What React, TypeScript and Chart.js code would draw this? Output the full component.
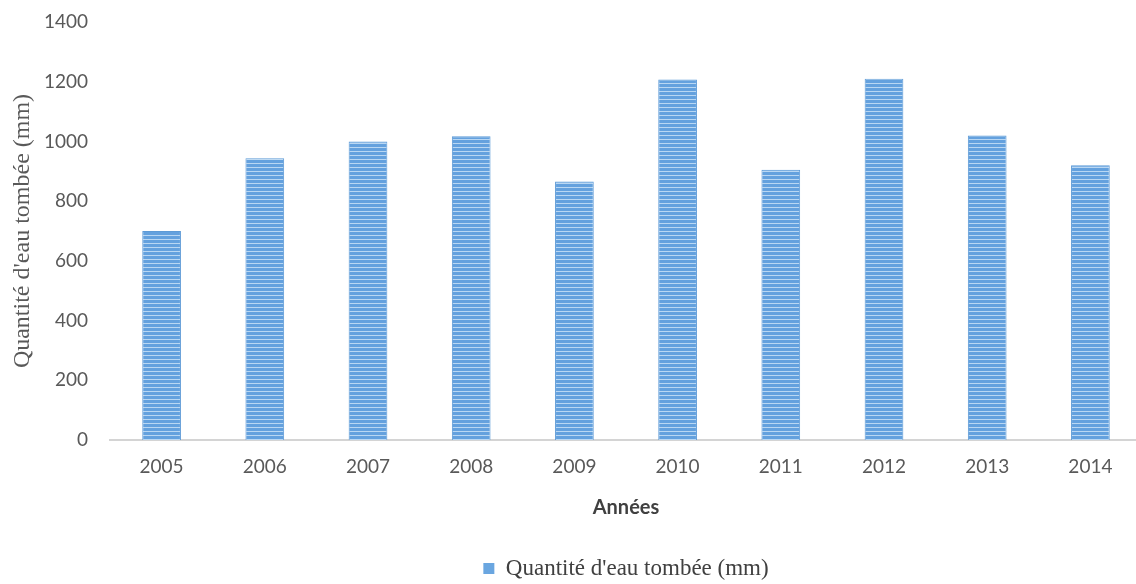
import React, { useEffect, useRef } from "react";
import { Chart, registerables } from "chart.js";

Chart.register(...registerables);

const years: string[] = ["2005", "2006", "2007", "2008", "2009", "2010", "2011", "2012", "2013", "2014"];
const rainfall: number[] = [700, 944, 1000, 1017, 866, 1207, 905, 1210, 1020, 920];
const seriesLabel = "Quantité d'eau tombée (mm)";
const yAxisTitle = "Quantité d'eau tombée (mm)";
const xAxisTitle = "Années";
const yMin = 0;
const yMax = 1400;
const yStep = 200;

function makeStripePattern(): CanvasPattern | string {
  const c = document.createElement("canvas");
  c.width = 4;
  c.height = 4;
  const ctx = c.getContext("2d");
  if (!ctx) return "#6aa6e0";
  ctx.fillStyle = "#64a1de";
  ctx.fillRect(0, 0, 4, 4);
  ctx.fillStyle = "#b9d7f3";
  ctx.fillRect(0, 3, 4, 1);
  const p = ctx.createPattern(c, "repeat");
  return p || "#6aa6e0";
}

export default function App() {
  const canvasRef = useRef<HTMLCanvasElement | null>(null);

  useEffect(() => {
    const canvas = canvasRef.current;
    if (!canvas) return;
    const pattern = makeStripePattern();
    const chart = new Chart(canvas, {
      type: "bar",
      data: {
        labels: years,
        datasets: [
          {
            label: seriesLabel,
            data: rainfall,
            backgroundColor: pattern as any,
            borderColor: "#5d9ad6",
            borderWidth: { left: 1, right: 1, top: 1, bottom: 0 } as any,
            barPercentage: 0.75,
            categoryPercentage: 0.5,
          },
        ],
      },
      options: {
        responsive: false,
        animation: false,
        layout: { padding: { top: 0, bottom: -6, left: 0, right: 0 } },
        plugins: {
          tooltip: { enabled: false },
          legend: {
            position: "bottom",
            fullSize: false,
            labels: {
              font: { family: "'Liberation Serif', 'Times New Roman', serif", size: 23 },
              color: "#404040",
              boxWidth: 11,
              boxHeight: 11,
              padding: 5,
              generateLabels: () => [
                {
                  text: seriesLabel,
                  fillStyle: "#6aa6e0",
                  strokeStyle: "#6aa6e0",
                  lineWidth: 0,
                  hidden: false,
                  datasetIndex: 0,
                  fontColor: "#404040",
                },
              ],
            },
          },
        },
        scales: {
          x: {
            grid: { display: false, drawTicks: false },
            border: { display: true, color: "#d4d4d4", width: 2 },
            ticks: {
              font: { family: "Lato, 'Open Sans', sans-serif", size: 19 },
              color: "#595959",
              padding: 15,
            },
            title: {
              display: true,
              text: xAxisTitle,
              font: { family: "Lato, 'Open Sans', sans-serif", size: 20, weight: "bold" },
              color: "#404040",
              padding: { top: 4, bottom: 32 },
            },
            afterFit: (scale: any) => {
              scale.height = 112;
            },
          },
          y: {
            min: yMin,
            max: yMax,
            grid: { display: false, drawTicks: false },
            border: { display: false },
            ticks: {
              stepSize: yStep,
              font: { family: "Lato, 'Open Sans', sans-serif", size: 19 },
              color: "#595959",
              padding: 22,
              callback: (v: any) => String(v),
            },
            title: {
              display: true,
              text: yAxisTitle,
              font: { family: "'Liberation Serif', 'Times New Roman', serif", size: 24 },
              color: "#595959",
              padding: { top: 8, bottom: 0 },
            },
            afterFit: (scale: any) => {
              scale.width = 110;
              scale.paddingTop = 22;
              scale.paddingBottom = 0;
            },
          },
        },
      },
    });
    return () => chart.destroy();
  }, []);

  return (
    <div style={{ position: "fixed", left: 0, top: 0, width: 1142, height: 584, background: "#ffffff" }}>
      <canvas ref={canvasRef} width={1142} height={584} />
    </div>
  );
}
